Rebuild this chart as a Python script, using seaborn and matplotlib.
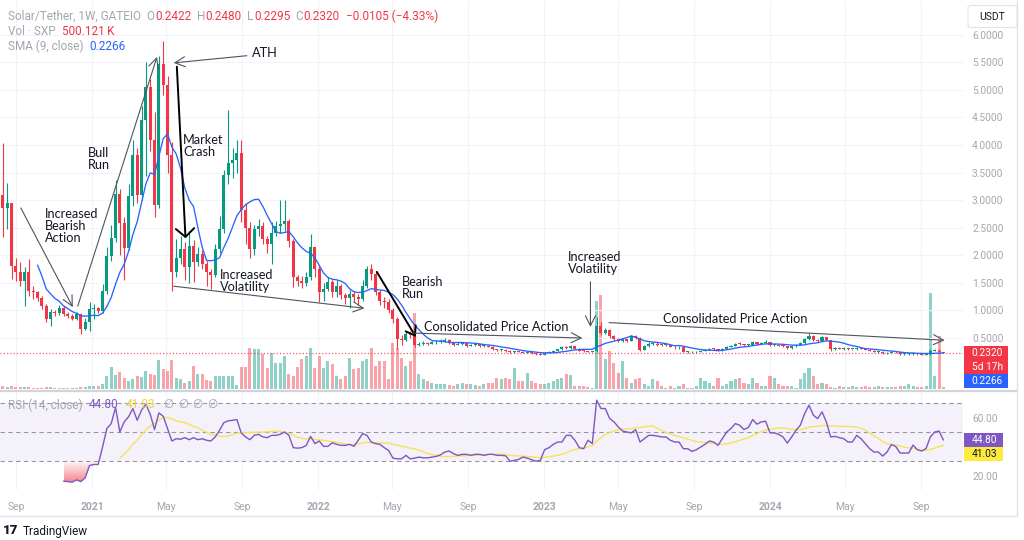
import numpy as np
import pandas as pd
import matplotlib
matplotlib.use("Agg")
import matplotlib.pyplot as plt
import matplotlib.dates as mdates
from matplotlib.patches import Rectangle, FancyBboxPatch
from matplotlib.lines import Line2D
from matplotlib.colors import LinearSegmentedColormap
import seaborn as sns

# ---------------- data (weekly SXP/USDT) ----------------
week_start = "2020-08-10"
first_open = 3.10

close = [
    2.86, 2.95, 1.80, 1.69, 1.53, 1.69, 1.35, 1.33, 1.22, 1.08,
    0.85, 0.97, 0.96, 1.05, 0.94, 0.90, 0.85, 0.94, 0.67, 0.79,
    1.03, 1.05, 0.99, 1.35, 1.98, 2.32, 3.12, 2.59, 2.14, 3.07,
    3.82, 3.10, 4.46, 5.05, 4.09, 2.92, 5.47, 5.08, 3.82, 1.69,
    1.96, 2.12, 1.78, 2.17, 1.87, 2.03, 1.85, 1.69, 1.64, 2.11,
    2.47, 3.46, 3.67, 3.73, 3.85, 2.83, 2.50, 2.11, 2.47, 2.53,
    2.29, 2.20, 2.41, 2.53, 2.56, 2.63, 2.26, 1.60, 1.54, 1.50,
    1.60, 2.15, 1.75, 1.33, 1.39, 1.51, 1.33, 1.45, 1.28, 1.22,
    1.30, 1.24, 1.21, 1.45, 1.75, 1.66, 1.33, 1.18, 1.15, 1.00,
    0.85, 0.49, 0.46, 0.58, 0.56, 0.37, 0.40, 0.41, 0.40, 0.42,
    0.43, 0.45, 0.47, 0.41, 0.38, 0.40, 0.41, 0.36, 0.37, 0.39,
    0.36, 0.36, 0.34, 0.30, 0.28, 0.29, 0.27, 0.24, 0.26, 0.25,
    0.23, 0.24, 0.22, 0.21, 0.20, 0.23, 0.25, 0.27, 0.30, 0.33,
    0.32, 0.35, 0.31, 0.27, 0.26, 0.25, 0.26, 0.71, 0.59, 0.64,
    0.53, 0.48, 0.44, 0.48, 0.45, 0.53, 0.50, 0.29, 0.36, 0.40,
    0.40, 0.38, 0.37, 0.37, 0.34, 0.33, 0.33, 0.25, 0.25, 0.24,
    0.25, 0.27, 0.29, 0.31, 0.30, 0.28, 0.31, 0.34, 0.36, 0.40,
    0.39, 0.37, 0.38, 0.42, 0.40, 0.41, 0.42, 0.37, 0.37, 0.36,
    0.35, 0.32, 0.35, 0.38, 0.41, 0.48, 0.53, 0.47, 0.45, 0.51,
    0.46, 0.30, 0.32, 0.31, 0.31, 0.30, 0.30, 0.32, 0.31, 0.29,
    0.27, 0.25, 0.25, 0.22, 0.23, 0.25, 0.24, 0.21, 0.21, 0.21,
    0.23, 0.21, 0.20, 0.21, 0.26, 0.27, 0.2422, 0.2320,
]
high = [
    4.04, 3.32, 2.95, 1.96, 1.87, 1.78, 1.93, 1.44, 1.35, 1.26,
    1.12, 1.03, 1.00, 1.10, 1.08, 0.97, 0.94, 0.97, 0.95, 0.86,
    1.16, 1.12, 1.07, 1.48, 2.15, 2.55, 3.37, 3.20, 2.70, 3.30,
    4.10, 3.95, 4.70, 5.50, 5.20, 4.60, 5.62, 5.89, 5.25, 4.05,
    2.30, 2.35, 2.25, 2.45, 2.28, 2.15, 2.10, 1.90, 1.75, 2.20,
    2.71, 3.55, 4.63, 3.95, 4.09, 4.09, 2.95, 2.60, 2.55, 2.65,
    2.60, 2.35, 2.60, 2.62, 3.00, 3.00, 2.65, 2.30, 1.65, 1.62,
    1.70, 2.38, 2.15, 1.80, 1.50, 1.60, 1.55, 1.55, 1.48, 1.32,
    1.38, 1.35, 1.30, 1.55, 1.80, 1.84, 1.70, 1.38, 1.25, 1.20,
    1.05, 0.88, 0.55, 0.62, 0.62, 0.58, 0.42, 0.44, 0.43, 0.45,
    0.46, 0.48, 0.50, 0.48, 0.42, 0.42, 0.43, 0.42, 0.39, 0.40,
    0.40, 0.38, 0.37, 0.35, 0.31, 0.31, 0.30, 0.28, 0.27, 0.27,
    0.26, 0.25, 0.25, 0.23, 0.22, 0.24, 0.26, 0.29, 0.31, 0.35,
    0.35, 0.37, 0.36, 0.32, 0.28, 0.27, 0.27, 0.88, 0.79, 0.68,
    0.66, 0.56, 0.50, 0.50, 0.49, 0.55, 0.55, 0.51, 0.38, 0.42,
    0.43, 0.42, 0.40, 0.39, 0.38, 0.35, 0.35, 0.34, 0.27, 0.26,
    0.26, 0.28, 0.30, 0.32, 0.32, 0.31, 0.32, 0.35, 0.37, 0.41,
    0.42, 0.40, 0.40, 0.44, 0.43, 0.43, 0.46, 0.42, 0.39, 0.38,
    0.37, 0.36, 0.36, 0.39, 0.43, 0.50, 0.60, 0.55, 0.49, 0.53,
    0.52, 0.47, 0.34, 0.33, 0.33, 0.32, 0.31, 0.33, 0.33, 0.32,
    0.30, 0.28, 0.26, 0.26, 0.24, 0.26, 0.26, 0.25, 0.22, 0.22,
    0.24, 0.23, 0.22, 0.22, 0.31, 0.30, 0.30, 0.2480,
]
low = [
    2.34, 2.47, 1.57, 1.53, 1.44, 1.08, 1.26, 1.21, 1.17, 1.03,
    0.80, 0.72, 0.90, 0.92, 0.90, 0.86, 0.82, 0.83, 0.58, 0.64,
    0.62, 0.85, 0.95, 0.95, 1.30, 1.90, 2.25, 2.00, 1.55, 2.10,
    2.90, 2.95, 3.00, 3.43, 3.90, 2.70, 2.85, 4.90, 3.50, 1.36,
    1.60, 1.85, 1.55, 1.50, 1.51, 1.80, 1.75, 1.45, 1.39, 1.60,
    2.05, 2.40, 3.30, 3.40, 3.50, 2.60, 2.20, 1.95, 2.00, 2.35,
    2.20, 2.05, 1.85, 2.35, 2.40, 2.45, 2.15, 1.42, 1.45, 1.40,
    1.45, 1.55, 1.60, 1.15, 1.18, 1.35, 1.25, 1.25, 1.20, 1.12,
    1.05, 1.15, 1.10, 1.18, 1.40, 1.55, 1.28, 1.10, 1.05, 0.95,
    0.78, 0.31, 0.38, 0.44, 0.50, 0.33, 0.35, 0.38, 0.37, 0.39,
    0.40, 0.41, 0.43, 0.39, 0.36, 0.37, 0.38, 0.34, 0.35, 0.36,
    0.34, 0.34, 0.33, 0.28, 0.26, 0.26, 0.25, 0.22, 0.23, 0.24,
    0.22, 0.22, 0.21, 0.20, 0.19, 0.19, 0.22, 0.24, 0.26, 0.29,
    0.30, 0.31, 0.30, 0.26, 0.25, 0.24, 0.24, 0.25, 0.55, 0.57,
    0.50, 0.46, 0.42, 0.43, 0.43, 0.44, 0.48, 0.27, 0.28, 0.34,
    0.37, 0.36, 0.35, 0.35, 0.33, 0.31, 0.31, 0.24, 0.23, 0.22,
    0.23, 0.24, 0.26, 0.28, 0.28, 0.27, 0.27, 0.30, 0.33, 0.35,
    0.37, 0.36, 0.36, 0.37, 0.38, 0.39, 0.40, 0.36, 0.35, 0.35,
    0.34, 0.31, 0.31, 0.34, 0.37, 0.40, 0.47, 0.45, 0.43, 0.44,
    0.44, 0.27, 0.29, 0.30, 0.29, 0.29, 0.28, 0.29, 0.30, 0.28,
    0.26, 0.24, 0.23, 0.21, 0.21, 0.22, 0.23, 0.20, 0.20, 0.19,
    0.20, 0.20, 0.19, 0.19, 0.20, 0.26, 0.24, 0.2295,
]
volume_m = [
    0.6, 0.4, 0.6, 0.4, 0.4, 0.4, 0.4, 0.2, 0.2, 0.2,
    0.4, 0.4, 0.2, 0.2, 0.2, 0.2, 0.2, 0.2, 0.4, 0.4,
    0.6, 0.6, 0.6, 1.0, 2.6, 4.4, 2.8, 3.4, 2.2, 1.6,
    2.0, 2.6, 2.4, 3.6, 3.0, 2.8, 5.8, 4.0, 3.6, 5.8,
    2.2, 2.0, 1.2, 1.6, 4.6, 3.0, 3.0, 1.8, 1.6, 2.6,
    2.6, 2.6, 2.6, 2.6, 0.8, 4.4, 4.4, 8.2, 8.0, 8.0,
    7.0, 4.2, 7.2, 5.2, 5.2, 6.6, 3.0, 2.6, 4.4, 6.0,
    6.6, 8.2, 4.2, 6.6, 4.2, 5.6, 5.0, 2.6, 2.0, 2.6,
    6.2, 4.0, 4.2, 5.6, 6.0, 8.2, 4.6, 5.6, 5.6, 2.0,
    9.2, 8.2, 6.2, 4.6, 5.6, 15.2, 3.0, 2.0, 1.6, 1.2,
    1.0, 1.0, 1.0, 0.8, 0.6, 1.0, 1.2, 1.0, 1.0, 0.8,
    0.6, 1.0, 1.2, 1.2, 2.2, 2.0, 2.2, 2.0, 4.2, 1.6,
    1.6, 3.2, 1.6, 1.2, 1.0, 1.0, 1.2, 1.6, 2.0, 2.2,
    3.0, 2.8, 0.6, 0.6, 0.6, 0.4, 0.2, 17.6, 18.8, 6.0,
    7.6, 5.2, 3.2, 5.6, 2.2, 1.2, 2.0, 2.2, 1.0, 0.6,
    2.0, 1.6, 0.6, 0.2, 0.6, 0.2, 0.6, 1.0, 0.2, 0.2,
    0.6, 2.2, 1.6, 1.2, 0.6, 2.2, 0.6, 1.0, 1.6, 2.0,
    2.2, 1.2, 1.0, 2.2, 1.2, 0.6, 0.6, 2.6, 2.2, 1.0,
    0.6, 0.6, 0.6, 0.2, 2.0, 3.2, 4.2, 2.6, 1.0, 1.2,
    1.0, 0.4, 0.2, 0.6, 0.4, 0.4, 0.6, 0.4, 0.4, 0.6,
    0.4, 0.4, 0.6, 0.4, 0.4, 0.4, 0.4, 0.6, 0.6, 1.0,
    0.6, 0.4, 0.4, 0.6, 19.2, 2.6, 10.6, 0.5,
]
rsi_first_week = 14
rsi = [
    16.4, 16.1, 15.7, 17.3, 16.1, 18.7, 27.2, 27.9, 27.9, 39.9,
    52.7, 56.1, 67.2, 50.3, 57.3, 60.8, 66.5, 58.4, 65.4, 69.5,
    62.6, 52.0, 63.5, 61.2, 52.7, 44.1, 45.7, 45.3, 46.4, 45.0,
    46.4, 45.0, 45.7, 44.6, 44.1, 46.9, 51.5, 56.8, 58.0, 58.4,
    58.9, 49.7, 46.9, 45.0, 48.0, 48.7, 46.9, 46.4, 48.0, 48.0,
    48.7, 50.3, 48.0, 39.5, 39.2, 39.5, 41.1, 47.3, 42.3, 44.1,
    40.4, 40.4, 42.9, 41.8, 41.1, 41.1, 41.8, 40.4, 44.6, 49.2,
    48.0, 43.4, 42.3, 41.8, 39.5, 37.6, 32.3, 31.8, 31.8, 34.2,
    31.8, 32.3, 33.0, 32.5, 32.5, 33.0, 33.5, 34.6, 36.5, 37.2,
    35.3, 34.2, 34.9, 34.9, 34.2, 34.9, 34.9, 34.2, 34.9, 34.9,
    34.2, 34.2, 33.9, 30.2, 30.7, 31.4, 33.0, 32.3, 31.2, 30.2,
    30.7, 38.1, 39.5, 41.8, 43.4, 43.4, 48.0, 48.0, 44.6, 39.5,
    38.8, 44.6, 42.3, 72.3, 66.5, 66.5, 59.6, 57.3, 53.8, 51.0,
    50.3, 49.7, 52.0, 43.4, 45.7, 48.0, 48.0, 47.5, 46.9, 46.9,
    44.6, 43.4, 43.4, 38.8, 38.8, 36.9, 38.1, 39.9, 41.8, 44.1,
    43.4, 41.1, 45.7, 50.3, 52.7, 56.1, 55.0, 52.0, 53.4, 58.9,
    55.7, 57.3, 57.7, 49.7, 49.7, 48.7, 46.9, 42.7, 46.9, 51.5,
    55.0, 63.1, 68.8, 61.9, 59.6, 64.2, 57.3, 46.9, 47.3, 46.4,
    45.7, 43.4, 43.4, 48.0, 45.7, 42.3, 38.8, 36.5, 36.5, 33.7,
    36.5, 41.6, 40.4, 35.8, 35.8, 35.8, 41.3, 38.1, 37.2, 38.9,
    46.9, 50.3, 51.0, 44.8,
]
tick_dates = ["2020-09-01", "2021-01-01", "2021-05-01", "2021-09-01", "2022-01-01",
              "2022-05-01", "2022-09-01", "2023-01-01", "2023-05-01", "2023-09-01",
              "2024-01-01", "2024-05-01", "2024-09-01"]
tick_labels = ["Sep", "2021", "May", "Sep", "2022", "May", "Sep", "2023", "May",
               "Sep", "2024", "May", "Sep"]
price_ticks = [0.5, 1.0, 1.5, 2.0, 2.5, 3.0, 3.5, 4.0, 4.5, 5.0, 5.5, 6.0]
rsi_ticks = [20, 60]

# ---------------- style ----------------
sns.set_theme(style="white")
plt.rcParams['font.family'] = ['Roboto', 'DejaVu Sans']

UP, DN = "#089981", "#F23645"
GRAY_TXT = "#A3A6AF"
GRID = "#F0F3FA"
ANN_FONT = ['Lato', 'DejaVu Sans']

W, H = 1024, 540
fig = plt.figure(figsize=(W / 100, H / 100), dpi=100)
fig.patch.set_facecolor("white")


def fbox(x0, y0, x1, y1, **kw):
    r = Rectangle((x0 / W, 1 - y1 / H), (x1 - x0) / W, (y1 - y0) / H,
                  transform=fig.transFigure, **kw)
    fig.add_artist(r)
    return r


def ftxt(x, y, s, **kw):
    kw.setdefault("va", "center")
    return fig.text(x / W, 1 - y / H, s, **kw)


ax = fig.add_axes([0, 1 - 389 / H, 963 / W, 388 / H])
vax = ax.twinx()
rax = fig.add_axes([0, 1 - 490 / H, 963 / W, 99 / H])

ax.set_zorder(3)
vax.set_zorder(2)
ax.patch.set_visible(False)

dates = pd.date_range(week_start, periods=len(close), freq="7D")
x = mdates.date2num(dates)
t0 = mdates.date2num(pd.Timestamp("2021-01-01"))
xlim = (t0 - 148.6, t0 + 1406.7)

o = np.array([first_open] + close[:-1])
c = np.array(close)
hi = np.array(high)
lo = np.array(low)
up = c >= o
cols = np.where(up, UP, DN)

# volume
vcols = [(0.031, 0.6, 0.506, 0.45) if u else (0.949, 0.212, 0.271, 0.45) for u in up]
vax.bar(x, volume_m, width=4.9, color=vcols, linewidth=0, zorder=2)
vax.set_ylim(0, 77.6)
vax.set_yticks([])

# grid (main)
tx = [mdates.date2num(pd.Timestamp(d)) for d in tick_dates]
for t in tx:
    vax.axvline(t, color=GRID, lw=0.8, zorder=0)
for p in price_ticks:
    ax.axhline(p, color=GRID, lw=0.8, zorder=0)

# candles
ax.vlines(x, lo, hi, colors=cols, lw=0.8, zorder=3)
ax.bar(x, np.maximum(np.abs(c - o), 0.015), bottom=np.minimum(o, c), width=4.9,
       color=cols, linewidth=0, zorder=4)

# SMA 9
sma = pd.Series(close).rolling(9).mean()
df_sma = pd.DataFrame({"x": x, "sma": sma}).dropna()
sns.lineplot(data=df_sma, x="x", y="sma", ax=ax, color="#2962FF", lw=0.95,
             estimator=None, sort=False, zorder=5)

# current price line
ax.axhline(close[-1], color=DN, lw=0.9, ls=(0, (1, 1.6)), alpha=0.8, zorder=2)

ax.set_xlim(*xlim)
ax.set_ylim(-0.424, 6.612)
ax.yaxis.tick_right()
ax.set_yticks(price_ticks)
ax.set_yticklabels([f"{p:.4f}" for p in price_ticks])
ax.tick_params(axis="y", length=0, pad=6.5, labelsize=7.3, labelcolor=GRAY_TXT)
ax.set_xticks([])
ax.set_xlabel("")
ax.set_ylabel("")
vax.set_ylabel("")
for a in (ax, vax, rax):
    for s in a.spines.values():
        s.set_visible(False)

# ---------------- RSI panel ----------------
rx = x[rsi_first_week:]
rv = np.array(rsi)
rsi_ma = pd.Series(rsi).rolling(14).mean()
rax.axhspan(30, 70, color="#7E57C2", alpha=0.08, lw=0, zorder=0)
for t in tx:
    rax.axvline(t, color=GRID, lw=0.8, zorder=0.5)
for lvl in (70, 50, 30):
    rax.axhline(lvl, color="#9598A1", lw=0.8, ls=(0, (4, 3)), zorder=1)

fb = rax.fill_between(rx, rv, 30, where=rv < 30, interpolate=True, color="none", lw=0)
cmap = LinearSegmentedColormap.from_list(
    "os", [(0.95, 0.2, 0.25, 0.75), (0.95, 0.2, 0.25, 0.04)])
paths = fb.get_paths()
if len(paths):
    img = rax.imshow(np.linspace(0, 1, 128).reshape(-1, 1), cmap=cmap, aspect="auto",
                     origin="lower", extent=[rx[0], rx[12], 12, 30], zorder=1.5)
    img.set_clip_path(paths[0], transform=rax.transData)

sns.lineplot(x=rx, y=rv, ax=rax, color="#7E57C2", lw=1.0, estimator=None, sort=False, zorder=3)
df_ma = pd.DataFrame({"x": rx, "ma": rsi_ma}).dropna()
sns.lineplot(data=df_ma, x="x", y="ma", ax=rax, color="#F7E25A", lw=1.0,
             estimator=None, sort=False, zorder=2.5)

rax.set_xlim(*xlim)
rax.set_ylim(10.3, 78.6)
rax.yaxis.tick_right()
rax.set_yticks(rsi_ticks)
rax.set_yticklabels([f"{v:.2f}" for v in rsi_ticks])
rax.tick_params(axis="y", length=0, pad=6.5, labelsize=7.3, labelcolor=GRAY_TXT)
rax.set_xticks(tx)
rax.set_xticklabels(tick_labels)
rax.tick_params(axis="x", length=0, pad=9, labelsize=7.5, labelcolor=GRAY_TXT)
for lab in rax.get_xticklabels():
    if lab.get_text().isdigit():
        lab.set_fontweight("bold")
rax.set_xlabel("")
rax.set_ylabel("")

# ---------------- annotations (drawn in data coordinates) ----------------
def dn(s):
    return mdates.date2num(pd.Timestamp(s))


arrows = [
    ("2020-09-08", 2.86, "2020-12-01", 1.06, "#50535E", 0.8, 0.6, 0.3),
    ("2020-12-09", 1.08, "2021-04-16", 5.60, "#50535E", 0.8, 0.6, 0.3),
    ("2021-09-08", 5.62, "2021-05-13", 5.49, "#50535E", 0.8, 0.6, 0.3),
    ("2021-05-18", 5.42, "2021-06-01", 2.31, "#000000", 1.4, 0.5, 0.55),
    ("2021-05-13", 1.44, "2022-03-17", 1.04, "#50535E", 0.8, 0.6, 0.3),
    ("2022-04-06", 1.70, "2022-06-08", 0.52, "#000000", 1.4, 0.5, 0.35),
    ("2022-06-03", 0.59, "2023-03-04", 0.50, "#50535E", 0.8, 0.6, 0.3),
    ("2023-03-17", 1.52, "2023-03-17", 0.70, "#50535E", 0.8, 0.6, 0.3),
    ("2023-04-16", 0.78, "2024-10-09", 0.46, "#50535E", 0.8, 0.6, 0.3),
]
for d0, p0, d1, p1, col, lw, hl, hw in arrows:
    ax.annotate("", xy=(dn(d1), p1), xytext=(dn(d0), p0),
                arrowprops=dict(arrowstyle=f"->,head_length={hl},head_width={hw}",
                                color=col, lw=lw, shrinkA=0, shrinkB=0,
                                mutation_scale=12), zorder=6)

notes = [
    ("ATH", "2021-09-16", 5.66),
    ("Bull\nRun", "2020-12-25", 3.75),
    ("Market\nCrash", "2021-05-28", 3.99),
    ("Increased\nBearish\nAction", "2020-10-17", 2.54),
    ("Increased\nVolatility", "2021-07-26", 1.53),
    ("Bearish\nRun", "2022-05-16", 1.41),
    ("Consolidated Price Action", "2022-06-21", 0.70),
    ("Increased\nVolatility", "2023-02-08", 1.86),
    ("Consolidated Price Action", "2023-07-12", 0.845),
]
for s, d, p in notes:
    ax.text(dn(d), p, s, family=ANN_FONT, fontsize=9.2, color="#131722",
            ha="left", va="center", linespacing=1.0, zorder=7)

# ---------------- legends / overlays (pieces chained left to right) ----------------
RED_T = "#F23645"
fig.canvas.draw()
renderer = fig.canvas.get_renderer()


def chain(y, x0, pieces, fs=8.5):
    xx = x0
    for s, col, gap in pieces:
        xx += gap
        t = ftxt(xx, y, s, color=col, fontsize=fs, ha="left")
        bb = t.get_window_extent(renderer=renderer)
        xx += bb.width


chain(16, 7.5, [("Solar/Tether, 1W, GATEIO", GRAY_TXT, 0), ("O", GRAY_TXT, 6),
                ("0.2422", RED_T, 0.8), ("H", GRAY_TXT, 5), ("0.2480", RED_T, 0.8),
                ("L", GRAY_TXT, 5), ("0.2295", RED_T, 0.8), ("C", GRAY_TXT, 5),
                ("0.2320", RED_T, 0.8), ("\u22120.0105 (\u22124.33%)", RED_T, 6)])
chain(31.5, 7.5, [("Vol \u00b7 SXP", GRAY_TXT, 0), ("500.121\u2009K", RED_T, 6.5)])
chain(46, 7.5, [("SMA (9, close)", GRAY_TXT, 0), ("0.2266", "#2962FF", 6.5)])
chain(405, 8, [("RSI (14, close)", GRAY_TXT, 0), ("44.80", "#7E57C2", 6.5),
               ("41.03", "#F2D22E", 7), ("\u2205", GRAY_TXT, 7.5),
               ("\u2205", GRAY_TXT, 4.5), ("\u2205", GRAY_TXT, 4.5),
               ("\u2205", GRAY_TXT, 4.5)])

# price tags
y_last = H - ax.transData.transform((x[-1], close[-1]))[1]
fbox(963.5, y_last - 7, 1008, y_last + 21, facecolor=DN, edgecolor="none")
ftxt(971.5, y_last, "0.2320", color="white", fontsize=7.3, ha="left")
ftxt(971.5, y_last + 14, "5d 17h", color="white", fontsize=7.3, ha="left")
fbox(963.5, y_last + 21.5, 1008, y_last + 35.5, facecolor="#2962FF", edgecolor="none")
ftxt(971.5, y_last + 28.5, "0.2266", color="white", fontsize=7.3, ha="left")

y_rsi = H - rax.transData.transform((rx[-1], rsi[-1]))[1]
fbox(963.5, y_rsi - 7, 1003, y_rsi + 7, facecolor="#7E57C2", edgecolor="none")
ftxt(971.5, y_rsi, f"{rsi[-1]:.2f}", color="white", fontsize=7.3, ha="left")
fbox(963.5, y_rsi + 7.5, 1003, y_rsi + 21.5, facecolor="#FFEB3B", edgecolor="none")
ftxt(971.5, y_rsi + 14.5, f"{rsi_ma.iloc[-1]:.2f}", color="#131722", fontsize=7.3, ha="left")

# USDT box
ub = FancyBboxPatch((968 / W, 1 - 27.5 / H), 49 / W, 22 / H,
                    boxstyle="round,pad=0,rounding_size=0.004",
                    transform=fig.transFigure, facecolor="white", edgecolor="#E0E3EB",
                    lw=0.8, zorder=10)
fig.add_artist(ub)
ftxt(992.5, 16.5, "USDT", color="#131722", fontsize=7.5, ha="center", zorder=11)

# frame, separator
fig.add_artist(Line2D([0, 1017 / W], [1 - 390.5 / H] * 2, transform=fig.transFigure,
                      color="#D1D4DC", lw=1.6))
fig.add_artist(Line2D([0, 1017 / W], [1 - 516 / H] * 2, transform=fig.transFigure,
                      color="#E0E3EB", lw=1.0))
fig.add_artist(Line2D([1017 / W] * 2, [1 - 516 / H, 1], transform=fig.transFigure,
                      color="#E0E3EB", lw=1.0))

# TradingView logo
ftxt(2.5, 531, "17", color="#131722", fontsize=9.5, fontweight="heavy", ha="left")
ftxt(22.5, 531, "TradingView", color="#131722", fontsize=8.5, ha="left")

fig.savefig("out.png", dpi=100, facecolor="white")
